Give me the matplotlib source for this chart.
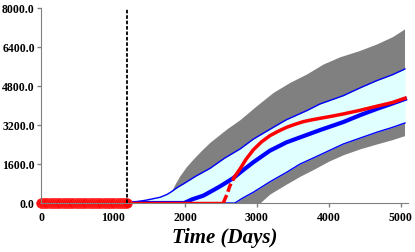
import matplotlib
matplotlib.use('Agg')
import matplotlib.pyplot as plt
import numpy as np

# observed history (red dots at zero)
obs_days = [0, 30, 60, 90, 120, 150, 180, 210, 240, 270, 300, 330, 360, 390, 420,
            450, 480, 510, 540, 570, 600, 630, 660, 690, 720, 750, 780, 810, 840,
            870, 900, 930, 960, 990, 1020, 1050, 1080, 1110, 1140, 1170, 1200]
obs_vals = [0] * len(obs_days)

# red reference curve
red_flat_days = [1200, 2532]
red_flat_vals = [0, 0]
red_dash_days = [2532, 2580, 2625, 2690]
red_dash_vals = [0, 330, 710, 1080]
red_days = [2690, 2764, 2850, 2949, 3060, 3180, 3300, 3412, 3530, 3643, 3760, 3875,
            4040, 4199, 4430, 4662, 4880, 5056]
red_vals = [1080, 1395, 1800, 2180, 2500, 2762, 2950, 3105, 3230, 3336, 3410, 3473,
            3560, 3652, 3800, 3967, 4120, 4296]

# P50 (thick blue)
p50_days = [1200, 1990, 2100, 2254, 2347, 2486, 2671, 2800, 2949, 3180, 3412, 3643, 3875,
            4199, 4430, 4662, 4880, 5056]
p50_vals = [0, 0, 150, 300, 450, 680, 1020, 1330, 1670, 2146, 2490, 2740, 2990,
            3320, 3600, 3857, 4080, 4267]

# P90 / P10 (thin blue, cyan band)
p90_days = [1200, 1450, 1653, 1750, 1815, 1900, 1976, 2150, 2347, 2550, 2764, 2949, 3227,
            3412, 3690, 3875, 4199, 4430, 4662, 4880, 5056]
p90_vals = [0, 110, 234, 350, 470, 650, 780, 1100, 1420, 1840, 2215, 2620, 3105,
            3420, 3787, 4062, 4403, 4720, 5018, 5260, 5498]
p10_days = [1200, 2694, 2800, 2949, 3180, 3412, 3600, 3800, 4199, 4430, 4662, 4880, 5056]
p10_vals = [0, 0, 200, 440, 870, 1260, 1600, 1870, 2420, 2660, 2900, 3100, 3282]

# envelope (gray band)
env_hi_days = [1200, 1450, 1653, 1750, 1815, 1870, 1930, 2020, 2115, 2230, 2347, 2579,
               2764, 2995, 3227, 3458, 3690, 3921, 4153, 4420, 4662, 4880, 5050]
env_hi_vals = [0, 110, 234, 350, 505, 820, 1120, 1490, 1805, 2160, 2490, 3036,
               3420, 3993, 4540, 4950, 5293, 5703, 6000, 6250, 6524, 6820, 7140]
env_lo_days = [1200, 3040, 3180, 3412, 3600, 3800, 4000, 4199, 4430, 4662, 4880, 5050]
env_lo_vals = [0, 0, 370, 780, 1100, 1400, 1720, 1980, 2220, 2420, 2600, 2762]

forecast_start = 1200
yticks = [0, 1600, 3200, 4800, 6400, 8000]
xticks = [0, 1000, 2000, 3000, 4000, 5000]

serif = ['Liberation Serif', 'DejaVu Serif']

fig = plt.figure(figsize=(4.15, 2.53), dpi=100)
ax = fig.add_axes([0.0988, 0.1937, 0.8846, 0.7708])

# gray envelope
grid = np.linspace(1200, 5050, 500)
hi = np.interp(grid, env_hi_days, env_hi_vals)
lo = np.interp(grid, env_lo_days, env_lo_vals)
ax.fill_between(grid, lo, hi, color='#808080', lw=0, zorder=1)

# cyan P10-P90 band
grid2 = np.linspace(1200, 5056, 500)
u = np.interp(grid2, p90_days, p90_vals)
l = np.interp(grid2, p10_days, p10_vals)
ax.fill_between(grid2, l, u, color='#e0ffff', lw=0, zorder=2)
ax.plot(p90_days, p90_vals, color='#0000ff', lw=1, zorder=3)
ax.plot(p10_days, p10_vals, color='#0000ff', lw=1, zorder=3)
ax.plot(p50_days, p50_vals, color='#0000ff', lw=3, zorder=4)

# red curve
ax.plot(red_flat_days, red_flat_vals, color='#ff0000', lw=2.5, zorder=5)
ax.plot(red_dash_days, red_dash_vals, color='#ff0000', lw=2.5, ls=(0, (2.5, 1)), zorder=5)
ax.plot(red_days, red_vals, color='#ff0000', lw=2.5, zorder=5)
ax.plot(obs_days, obs_vals, 'o', color='#ff0000', ms=7, mec='#ff3030', mew=0.5,
        clip_on=False, zorder=6)

ax.axvline(forecast_start, color='black', lw=1.3, ls=(0, (2, 1)), zorder=7)

ax.set_xlim(0, 5100)
ax.set_ylim(0, 8000)
ax.set_xticks(xticks)
ax.set_yticks(yticks)
ax.set_yticklabels([f'{v:.1f}' for v in yticks])
for lab in ax.get_xticklabels() + ax.get_yticklabels():
    lab.set_family(serif)
    lab.set_weight('bold')
    lab.set_fontsize(8.5)
ax.tick_params(colors='#808080', length=3, width=1, labelcolor='black', pad=1.5)
ax.tick_params(axis='x', pad=3)
for s in ['top', 'right']:
    ax.spines[s].set_visible(False)
for s in ['left', 'bottom']:
    ax.spines[s].set_color('#808080')
    ax.spines[s].set_zorder(8)
ax.set_xlabel('Time (Days)', family=serif, weight='bold', style='italic',
              fontsize=15, labelpad=3)

plt.savefig('out.png', dpi=100)
